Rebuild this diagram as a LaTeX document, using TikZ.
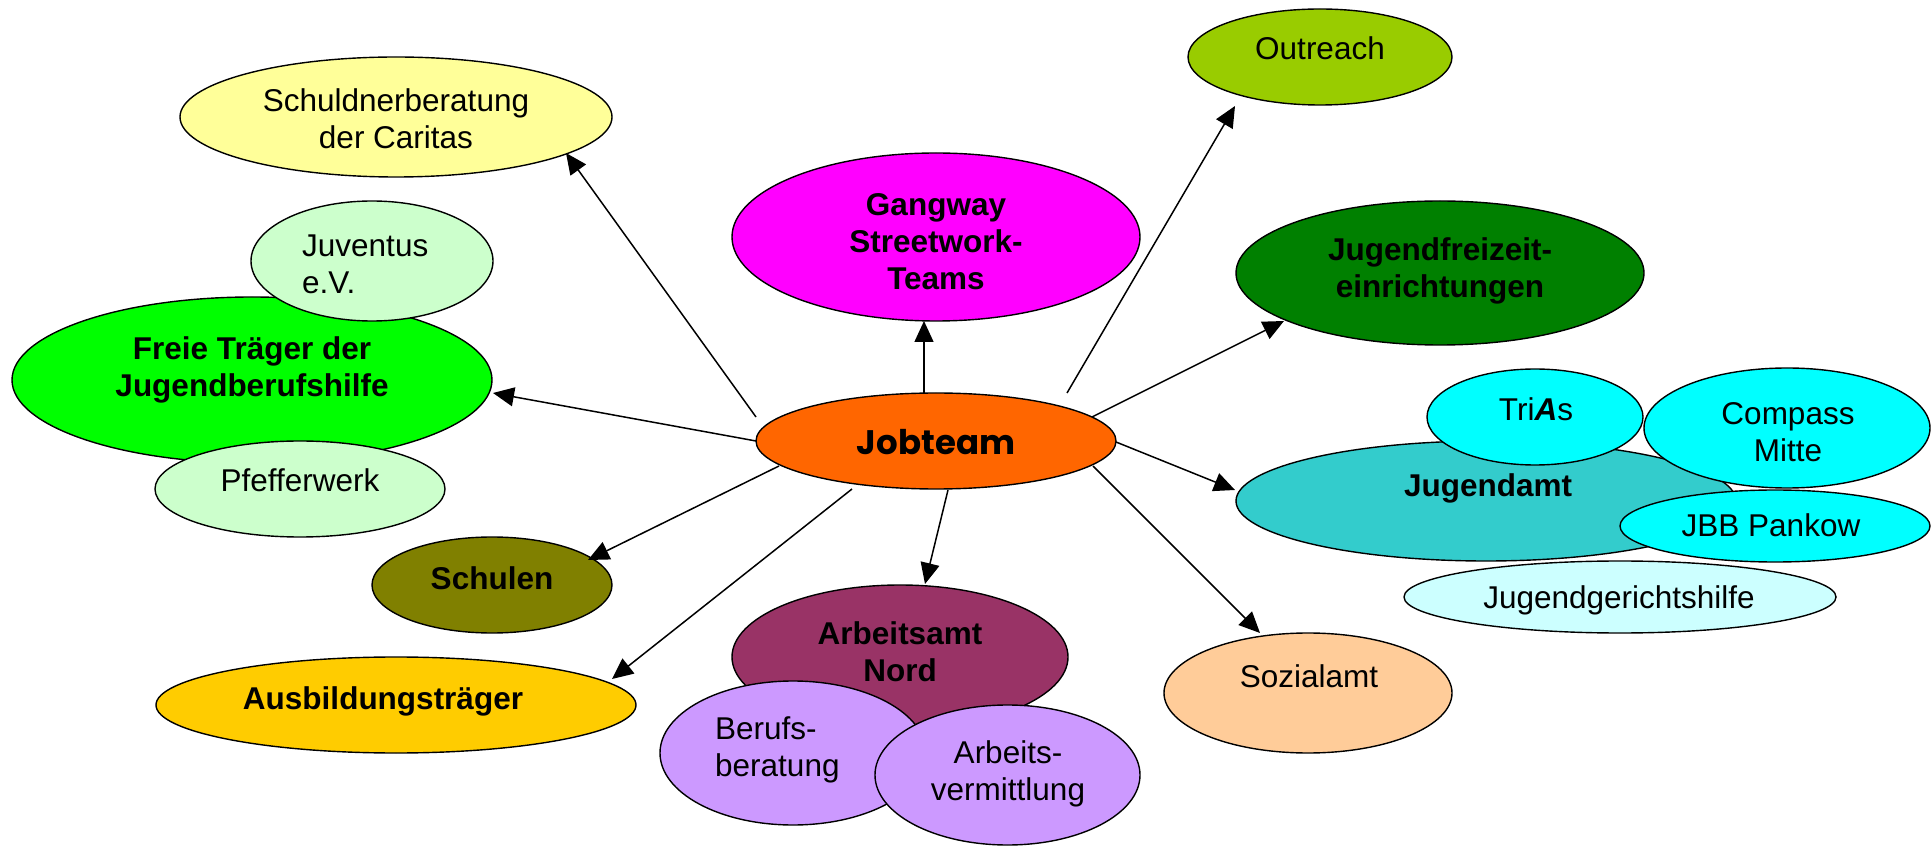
\documentclass[tikz,border=0pt]{standalone}
\usepackage{fontspec}
\setmainfont{Liberation Sans}
\newfontfamily\jobfont{Poppins}
\usetikzlibrary{shapes.geometric,arrows.meta}
\definecolor{cSchuld}{HTML}{FFFF99}
\definecolor{cOut}{HTML}{99CC00}
\definecolor{cGang}{HTML}{FF00FF}
\definecolor{cFrei}{HTML}{008000}
\definecolor{cFreie}{HTML}{00FF00}
\definecolor{cLight}{HTML}{CCFFCC}
\definecolor{cJob}{HTML}{FF6600}
\definecolor{cSchul}{HTML}{808000}
\definecolor{cAusb}{HTML}{FFCC00}
\definecolor{cAA}{HTML}{993366}
\definecolor{cLila}{HTML}{CC99FF}
\definecolor{cSoz}{HTML}{FFCC99}
\definecolor{cJA}{HTML}{33CCCC}
\definecolor{cCyan}{HTML}{00FFFF}
\definecolor{cPale}{HTML}{CCFFFF}
\begin{document}
\begin{tikzpicture}[x=1pt,y=1pt,
  bub/.style={ellipse,draw=black,line width=1.4pt,inner sep=0pt,outer sep=0pt},
  txt/.style={inner sep=0pt,align=center,font=\fontsize{31.5}{37}\selectfont},
  btxt/.style={inner sep=0pt,align=center,font=\fontsize{31.5}{37}\selectfont\bfseries},
  ltxt/.style={inner sep=0pt,align=left,anchor=west,font=\fontsize{31.5}{37}\selectfont},
  arr/.style={line width=1.5pt,-{Triangle[length=21pt,width=19pt]}}]
\useasboundingbox (0,0) rectangle (1931,847);

% ellipses
\node[bub,fill=cSchuld,minimum width=432,minimum height=120] (schuld) at (396,730) {};
\node[bub,fill=cOut,minimum width=264,minimum height=96] (outreach) at (1320,790) {};
\node[bub,fill=cGang,minimum width=408,minimum height=168] (gangway) at (936,610) {};
\node[bub,fill=cFrei,minimum width=408,minimum height=144] (freizeit) at (1440,574) {};
\node[bub,fill=cFreie,minimum width=480,minimum height=166] (freie) at (252,467) {};
\node[bub,fill=cLight,minimum width=242,minimum height=120] (juventus) at (372,586) {};
\node[bub,fill=cLight,minimum width=290,minimum height=96] (pfeffer) at (300,358) {};
\node[bub,fill=cJob,minimum width=360,minimum height=96] (jobteam) at (936,406) {};
\node[bub,fill=cSchul,minimum width=240,minimum height=96] (schulen) at (492,262) {};
\node[bub,fill=cAusb,minimum width=480,minimum height=96] (ausb) at (396,142) {};
\node[bub,fill=cAA,minimum width=336,minimum height=144] (aamt) at (900,190) {};
\node[bub,fill=cLila,minimum width=266,minimum height=144] (berufs) at (793,94) {};
\node[bub,fill=cLila,minimum width=265,minimum height=140] (verm) at (1007.5,72) {};
\node[bub,fill=cSoz,minimum width=288,minimum height=120] (sozial) at (1308,154) {};
\node[bub,fill=cJA,minimum width=500,minimum height=120] (jamt) at (1486,346) {};
\node[bub,fill=cCyan,minimum width=216,minimum height=96] (trias) at (1535,430) {};
\node[bub,fill=cCyan,minimum width=286,minimum height=120] (compass) at (1787,419) {};
\node[bub,fill=cCyan,minimum width=310,minimum height=72] (jbb) at (1775,321) {};
\node[bub,fill=cPale,minimum width=432,minimum height=72] (gericht) at (1620,250) {};

% texts
\node[txt] (schuldt) at (396,724.6) {\strut Schuldnerberatung\\\strut der Caritas};
\node[txt] (outreacht) at (1320,794.6) {\strut Outreach};
\node[btxt] (gangwayt) at (936,602.3) {\strut Gangway\\\strut Streetwork-\\\strut Teams};
\node[btxt] (freizeitt) at (1440,575.8) {\strut Jugendfreizeit-\\\strut einrichtungen};
\node[btxt] (freiet) at (252,476.8) {\strut Freie Träger der\\\strut Jugendberufshilfe};
\node[ltxt] (juventust) at (302,579.8) {\strut Juventus\\\strut e.V.};
\node[txt] (pfeffert) at (300,362.6) {\strut Pfefferwerk};
\node[inner sep=0pt,font=\fontsize{34}{40}\selectfont\jobfont\bfseries] (jobteamt) at (936,400) {\strut Jobteam};
\node[btxt] (schulent) at (492,265.3) {\strut Schulen};
\node[btxt] (ausbt) at (383,145.3) {\strut Ausbildungsträger};
\node[btxt] (aamtt) at (900,191.6) {\strut Arbeitsamt\\\strut Nord};
\node[ltxt] (berufst) at (715,96.5) {\strut Berufs-\\\strut beratung};
\node[txt] (vermt) at (1008,72) {\strut Arbeits-\\\strut vermittlung};
\node[txt] (sozialt) at (1309,166.6) {\strut Sozialamt};
\node[btxt] (jamtt) at (1488,357.6) {\strut Jugendamt};
\node[txt] (triast) at (1536,433.8) {\strut Tri\textbf{\textit{A}}s};
\node[txt] (compasst) at (1788,411.1) {\strut Compass\\\strut Mitte};
\node[txt] (jbbt) at (1771,317.5) {\strut JBB Pankow};
\node[txt] (gerichtt) at (1619,246) {\strut Jugendgerichtshilfe};

% connectors
\draw[arr] ([shift={(-180,24)}]jobteam.center) -- ([shift={(170,-36)}]schuld.center);
\draw[arr] (jobteam.west) -- ([shift={(241,-13)}]freie.center);
\draw[arr] ([shift={(-157,-25)}]jobteam.center) -- ([shift={(96,25)}]schulen.center);
\draw[arr] ([shift={(-84,-48)}]jobteam.center) -- ([shift={(216,26)}]ausb.center);
\draw[arr] ([shift={(12,-49)}]jobteam.center) -- ([shift={(25,73)}]aamt.center);
\draw[arr] ([shift={(157,-25)}]jobteam.center) -- ([shift={(-48,60)}]sozial.center);
\draw[arr] ([shift={(180,-1)}]jobteam.center) -- ([shift={(-251,11)}]jamt.center);
\draw[arr] ([shift={(156,24)}]jobteam.center) -- ([shift={(-156,-48)}]freizeit.center);
\draw[arr] ([shift={(131,48)}]jobteam.center) -- ([shift={(-85,-49)}]outreach.center);
\draw[arr] ([shift={(-12,48)}]jobteam.center) -- ([shift={(-12,-84)}]gangway.center);
\end{tikzpicture}
\end{document}
